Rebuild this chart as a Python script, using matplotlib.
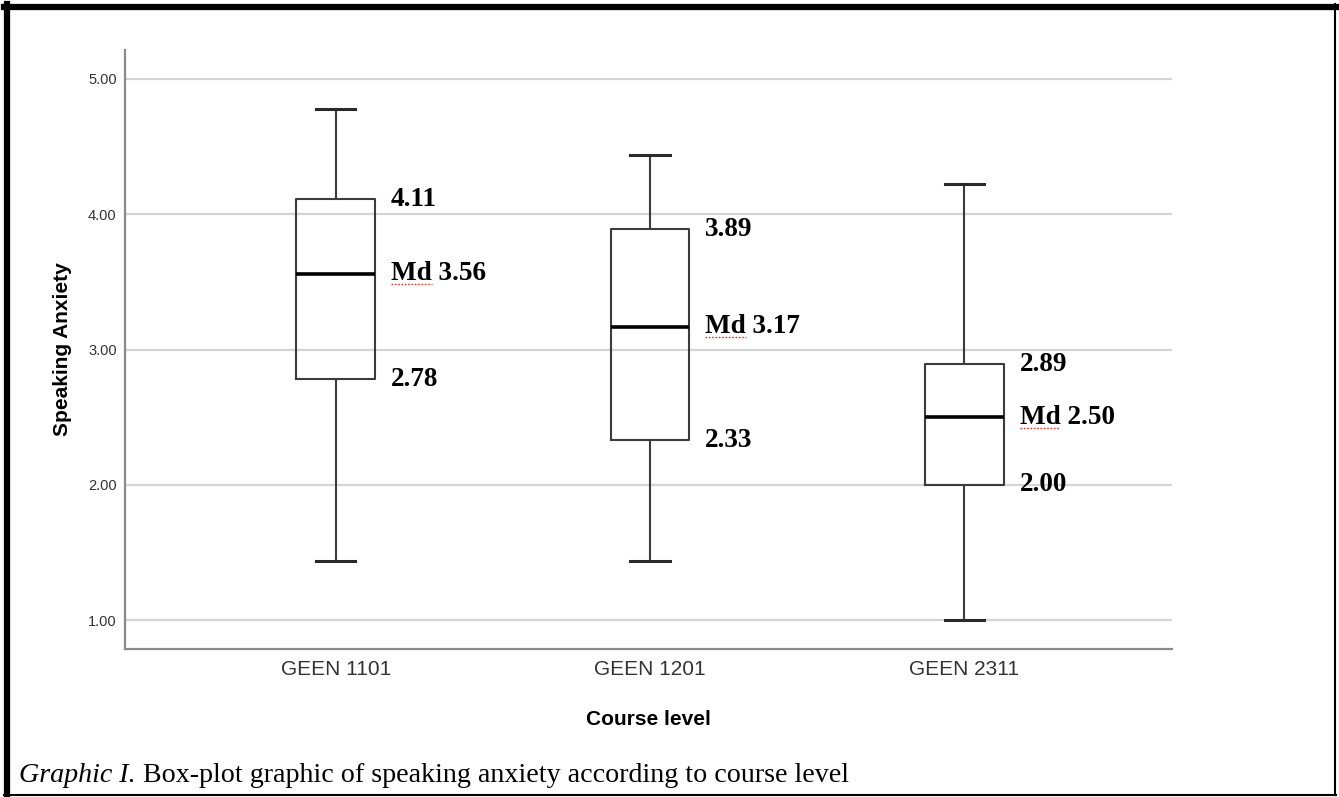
import matplotlib.pyplot as plt
from matplotlib.lines import Line2D

# Box statistics
courses = ['GEEN 1101', 'GEEN 1201', 'GEEN 2311']
whisker_low = [1.44, 1.44, 1.00]
q1 = [2.78, 2.33, 2.00]
median = [3.56, 3.17, 2.50]
q3 = [4.11, 3.89, 2.89]
whisker_high = [4.78, 4.44, 4.22]
y_ticks = [1.00, 2.00, 3.00, 4.00, 5.00]

fig = plt.figure(figsize=(13.39, 7.97), dpi=100)
ax = fig.add_axes([125 / 1339, 1 - 649 / 797, 1047 / 1339, 599 / 797])

stats = []
for i, name in enumerate(courses):
    stats.append({'label': name, 'whislo': whisker_low[i], 'q1': q1[i],
                  'med': median[i], 'q3': q3[i], 'whishi': whisker_high[i]})

ax.bxp(stats, positions=range(len(courses)), widths=0.25, showfliers=False,
       boxprops=dict(color='#3c3c3c', linewidth=1.5),
       whiskerprops=dict(color='#3c3c3c', linewidth=1.5),
       capprops=dict(color='#2a2a2a', linewidth=2.2),
       medianprops=dict(color='black', linewidth=2.6),
       zorder=3)

# grid and axes styling
for y in y_ticks:
    ax.axhline(y, color='#d4d4d4', linewidth=1.6, zorder=1)
ax.set_xlim(-0.67, 2.66)
ax.set_ylim(0.786, 5.214)
ax.set_yticks(y_ticks)
ax.set_yticklabels(['%.2f' % v for v in y_ticks], fontsize=10.5, color='#333333',
                   family='Liberation Sans')
ax.set_xticks(range(len(courses)))
ax.set_xticklabels(courses, fontsize=15, color='#333333', family='Liberation Sans')
ax.tick_params(length=0, pad=8)
ax.tick_params(axis='y', pad=6)
for side in ['top', 'right']:
    ax.spines[side].set_visible(False)
for side in ['left', 'bottom']:
    ax.spines[side].set_color('#8a8a8a')
    ax.spines[side].set_linewidth(1.6)

ax.set_xlabel('Course level', fontsize=15, fontweight='bold', family='Liberation Sans',
              labelpad=22)
ax.set_ylabel('Speaking Anxiety', fontsize=15, fontweight='bold', family='Liberation Sans')
ax.yaxis.set_label_coords(-0.0506, 0.5)

# value labels next to each box
md_texts = []
for i in range(len(courses)):
    x = i + 0.175
    for v in [q3[i], q1[i]]:
        ax.text(x, v, '%.2f' % v, fontsize=19.5, fontweight='bold',
                family='Liberation Serif', va='center', ha='left')
    t = ax.text(x, median[i], 'Md %.2f' % median[i], fontsize=19.5, fontweight='bold',
                family='Liberation Serif', va='center', ha='left')
    md_texts.append(t)

# caption
cap = fig.text(19 / 1339, 1 - 782 / 797, 'Graphic I.', fontsize=20.2, style='italic',
               family='Liberation Serif', va='baseline')
fig.canvas.draw()
renderer = fig.canvas.get_renderer()
bb = cap.get_window_extent(renderer)
fig.text(bb.x1 / fig.bbox.width, 1 - 782 / 797,
         ' Box-plot graphic of speaking anxiety according to course level',
         fontsize=20.2, family='Liberation Serif', va='baseline')

# red dotted spell-check underline under "Md"
for t in md_texts:
    tb = t.get_window_extent(renderer)
    x0 = tb.x0 / fig.bbox.width
    x1 = (tb.x0 + tb.width * 0.43) / fig.bbox.width
    yy = (tb.y0 + 2) / fig.bbox.height
    fig.add_artist(Line2D([x0, x1], [yy, yy], color='#e03030', linewidth=1.0,
                          linestyle=(0, (1.2, 1.2)), transform=fig.transFigure))

# outer frame
W, H = 1339, 797
frame = [([7 / W, 7 / W], [2 / H, 1 - 4 / H], 4.5),
         ([4 / W, 1336 / W], [1 - 7 / H, 1 - 7 / H], 4.5),
         ([1335 / W, 1335 / W], [2 / H, 1 - 4 / H], 1.5),
         ([4 / W, 1336 / W], [2.5 / H, 2.5 / H], 1.5)]
for xs, ys, lw in frame:
    fig.add_artist(Line2D(xs, ys, color='black', linewidth=lw, transform=fig.transFigure))

fig.savefig('out.png', dpi=100)
